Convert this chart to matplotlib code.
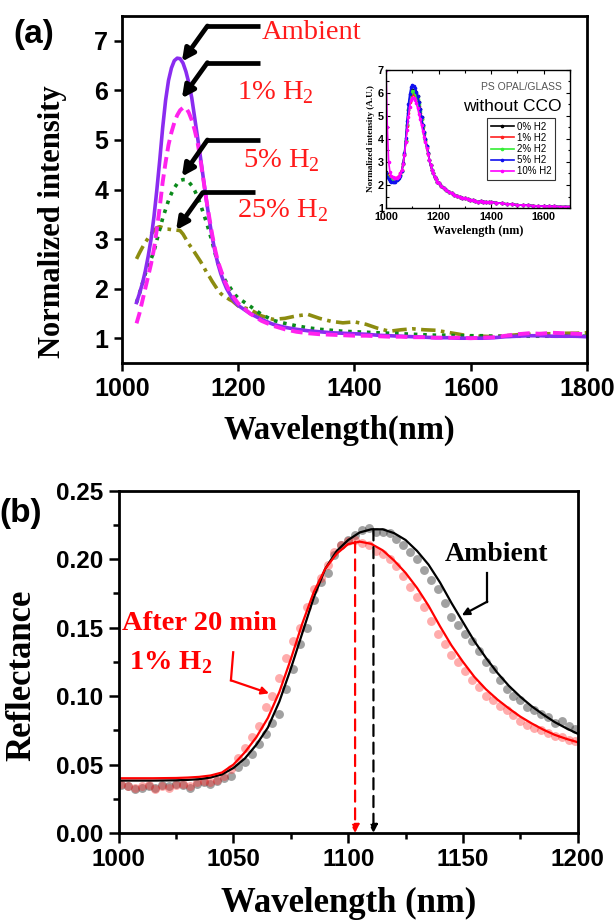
import matplotlib
matplotlib.use("Agg")
import matplotlib.pyplot as plt
from matplotlib.ticker import MultipleLocator

plt.rcParams["font.family"] = "Liberation Sans"
plt.rcParams["mathtext.fontset"] = "custom"
plt.rcParams["mathtext.rm"] = "Liberation Serif"
plt.rcParams["mathtext.bf"] = "Liberation Serif:bold"

SERIF = "Liberation Serif"

# ---------------- (a) PL spectra under H2 ----------------
wl_a = [1025, 1030, 1035, 1040, 1045, 1050, 1055, 1060, 1065, 1070, 1075, 1080,
        1085, 1090, 1095, 1100, 1105, 1110, 1115, 1120, 1125, 1130, 1135, 1140,
        1145, 1150, 1155, 1160, 1165, 1170, 1175, 1180, 1185, 1190, 1195, 1200,
        1220, 1240, 1260, 1280, 1300, 1320, 1340, 1360, 1380, 1400, 1420, 1440,
        1460, 1480, 1500, 1520, 1540, 1560, 1580, 1600, 1620, 1640, 1660, 1680,
        1700, 1720, 1740, 1760, 1780, 1800]

ambient_a = [1.72, 1.90, 2.10, 2.35, 2.65, 3.00, 3.45, 4.00, 4.60, 5.25, 5.80, 6.20,
             6.45, 6.60, 6.65, 6.64, 6.55, 6.38, 6.15, 5.85, 5.45, 5.05, 4.65, 4.22,
             3.80, 3.40, 3.05, 2.75, 2.50, 2.30, 2.14, 2.00, 1.90, 1.80, 1.72, 1.66,
             1.50, 1.38, 1.28, 1.22, 1.18, 1.15, 1.13, 1.11, 1.10, 1.09, 1.08, 1.06,
             1.05, 1.04, 1.03, 1.02, 1.01, 1.01, 1.00, 1.00, 1.00, 1.01, 1.03, 1.04,
             1.05, 1.05, 1.04, 1.04, 1.04, 1.03]

h2_1_a = [1.30, 1.50, 1.75, 2.00, 2.25, 2.50, 2.80, 3.20, 3.65, 4.15, 4.55, 4.90,
          5.15, 5.35, 5.50, 5.60, 5.65, 5.65, 5.55, 5.40, 5.20, 4.95, 4.60, 4.20,
          3.80, 3.45, 3.10, 2.80, 2.55, 2.38, 2.20, 2.07, 1.95, 1.86, 1.78, 1.70,
          1.50, 1.35, 1.25, 1.18, 1.13, 1.10, 1.08, 1.07, 1.06, 1.05, 1.05, 1.04,
          1.03, 1.03, 1.02, 1.02, 1.01, 1.01, 1.01, 1.00, 1.01, 1.02, 1.05, 1.08,
          1.10, 1.09, 1.11, 1.10, 1.09, 1.08]

h2_5_a = [1.72, 1.90, 2.10, 2.30, 2.45, 2.60, 2.75, 2.98, 3.20, 3.42, 3.60, 3.78,
          3.92, 4.03, 4.12, 4.18, 4.20, 4.20, 4.15, 4.08, 3.98, 3.85, 3.70, 3.52,
          3.35, 3.15, 2.95, 2.72, 2.52, 2.35, 2.22, 2.12, 2.04, 1.95, 1.87, 1.81,
          1.65, 1.48, 1.36, 1.30, 1.25, 1.21, 1.18, 1.16, 1.14, 1.13, 1.12, 1.11,
          1.10, 1.09, 1.08, 1.07, 1.06, 1.06, 1.05, 1.05, 1.05, 1.04, 1.04, 1.04,
          1.04, 1.04, 1.04, 1.04, 1.04, 1.04]

h2_25_a = [2.60, 2.72, 2.83, 2.93, 3.02, 3.10, 3.17, 3.23, 3.25, 3.23, 3.20, 3.20,
           3.19, 3.19, 3.18, 3.17, 3.10, 3.00, 2.90, 2.82, 2.73, 2.64, 2.55, 2.45,
           2.34, 2.25, 2.15, 2.06, 1.97, 1.90, 1.85, 1.82, 1.78, 1.75, 1.70, 1.65,
           1.58, 1.45, 1.38, 1.40, 1.45, 1.48, 1.40, 1.34, 1.31, 1.33, 1.28, 1.20,
           1.14, 1.17, 1.19, 1.17, 1.16, 1.12, 1.08, 1.04, 1.04, 1.03, 1.05, 1.07,
           1.08, 1.09, 1.09, 1.10, 1.10, 1.11]

# inset: bare PS opal on glass
wl_in = [1000, 1005, 1010, 1015, 1020, 1025, 1030, 1035, 1040, 1045, 1050, 1055,
         1060, 1065, 1070, 1075, 1080, 1085, 1090, 1095, 1100, 1105, 1110, 1115,
         1120, 1125, 1130, 1135, 1140, 1145, 1150, 1155, 1160, 1165, 1170, 1175,
         1180, 1185, 1190, 1195, 1200]
wl_in_tail = [1210, 1220, 1230, 1240, 1250, 1260, 1270, 1280, 1290, 1300, 1310,
              1320, 1330, 1340, 1350, 1360, 1370, 1380, 1390, 1400, 1420, 1440,
              1460, 1480, 1500, 1520, 1540, 1560, 1580, 1600, 1620, 1640, 1660,
              1680, 1700]
in_tail = [1.95, 1.85, 1.78, 1.70, 1.64, 1.58, 1.52, 1.48, 1.45, 1.42, 1.38,
           1.36, 1.33, 1.30, 1.26, 1.30, 1.28, 1.27, 1.26, 1.26, 1.23, 1.20,
           1.18, 1.16, 1.14, 1.13, 1.12, 1.10, 1.09, 1.08, 1.07, 1.07, 1.06,
           1.06, 1.06]

in_0 = [2.55, 2.45, 2.35, 2.30, 2.25, 2.20, 2.20, 2.20, 2.25, 2.30, 2.35, 2.45,
        2.60, 2.90, 3.30, 3.90, 4.60, 5.25, 5.70, 6.00, 6.15, 6.15, 6.10, 6.00,
        5.85, 5.60, 5.30, 4.95, 4.60, 4.30, 4.00, 3.70, 3.40, 3.10, 2.85, 2.65,
        2.50, 2.35, 2.25, 2.15, 2.08]
in_1 = [2.50, 2.45, 2.40, 2.35, 2.32, 2.30, 2.30, 2.30, 2.32, 2.35, 2.40, 2.50,
        2.65, 2.95, 3.35, 3.90, 4.55, 5.15, 5.60, 5.85, 5.95, 5.95, 5.90, 5.80,
        5.65, 5.45, 5.15, 4.85, 4.50, 4.20, 3.92, 3.63, 3.35, 3.08, 2.85, 2.65,
        2.50, 2.35, 2.25, 2.15, 2.08]
in_2 = [2.50, 2.40, 2.32, 2.25, 2.22, 2.20, 2.18, 2.20, 2.23, 2.28, 2.33, 2.43,
        2.60, 2.92, 3.35, 3.95, 4.65, 5.30, 5.75, 6.00, 6.10, 6.08, 6.02, 5.90,
        5.72, 5.50, 5.20, 4.88, 4.55, 4.25, 3.95, 3.66, 3.38, 3.09, 2.85, 2.65,
        2.50, 2.35, 2.25, 2.15, 2.08]
in_5 = [2.50, 2.35, 2.25, 2.18, 2.15, 2.12, 2.12, 2.15, 2.20, 2.25, 2.30, 2.40,
        2.60, 2.95, 3.40, 4.05, 4.80, 5.50, 5.95, 6.25, 6.35, 6.30, 6.20, 6.05,
        5.85, 5.60, 5.30, 4.95, 4.60, 4.30, 4.00, 3.70, 3.40, 3.10, 2.85, 2.65,
        2.50, 2.35, 2.25, 2.15, 2.08]
in_10 = [7.00, 4.50, 3.00, 2.55, 2.40, 2.35, 2.30, 2.30, 2.30, 2.35, 2.40, 2.50,
         2.65, 2.90, 3.30, 3.85, 4.40, 4.95, 5.40, 5.70, 5.80, 5.80, 5.70, 5.55,
         5.35, 5.10, 4.85, 4.60, 4.35, 4.10, 3.85, 3.60, 3.35, 3.10, 2.85, 2.65,
         2.50, 2.35, 2.25, 2.15, 2.08]

inset_labels = ["0% H2", "1% H2", "2% H2", "5% H2", "10% H2"]
inset_colors = ["black", "#ff2020", "#33ee33", "#1010ee", "#ff00ff"]

# ---------------- (b) reflectance, measured + fit ----------------
wl_pts = [1001, 1004, 1007, 1010, 1013, 1016, 1019, 1022, 1025, 1028, 1031, 1034,
          1037, 1040, 1043, 1046, 1049, 1052, 1055, 1058, 1061, 1064, 1067, 1070,
          1073, 1076, 1079, 1082, 1085, 1088, 1091, 1094, 1097, 1100, 1103, 1106,
          1109, 1112, 1115, 1118, 1121, 1124, 1127, 1130, 1133, 1136, 1139, 1142,
          1145, 1148, 1151, 1154, 1157, 1160, 1163, 1166, 1169, 1172, 1175, 1178,
          1181, 1184, 1187, 1190, 1193, 1196, 1199]

refl_ambient = [.035, .034, .032, .033, .034, .033, .035, .034, .036, .035, .033, .036,
                .037, .036, .038, .040, .042, .048, .052, .058, .065, .072, .080, .087,
                .105, .120, .138, .150, .170, .183, .190, .203, .210, .214, .218, .221,
                .223, .220, .220, .219, .215, .210, .205, .200, .192, .185, .178, .168,
                .158, .152, .145, .140, .133, .125, .120, .112, .105, .100, .097, .092,
                .090, .087, .085, .080, .082, .078, .076]

refl_h2 = [.036, .034, .033, .034, .035, .032, .034, .033, .035, .036, .034, .037,
           .038, .037, .039, .042, .047, .055, .062, .070, .078, .092, .100, .113,
           .128, .140, .150, .165, .178, .186, .196, .205, .210, .213, .214, .212,
           .210, .206, .204, .200, .195, .188, .180, .172, .165, .155, .145, .138,
           .130, .125, .118, .112, .107, .100, .097, .093, .090, .086, .082, .079,
           .077, .075, .073, .071, .070, .068, .067]

wl_fit = [1000, 1005, 1010, 1015, 1020, 1025, 1030, 1035, 1040, 1045, 1050, 1055,
          1060, 1065, 1070, 1075, 1080, 1085, 1090, 1095, 1100, 1105, 1110, 1115,
          1120, 1125, 1130, 1135, 1140, 1145, 1150, 1155, 1160, 1165, 1170, 1175,
          1180, 1185, 1190, 1195, 1200]

fit_ambient = [.0383, .0383, .0383, .0383, .0384, .0385, .0388, .0393, .0405, .0428,
               .0475, .0545, .0645, .0770, .0960, .1200, .1460, .1720, .1930, .2060,
               .2140, .2195, .2218, .2218, .2190, .2140, .2060, .1960, .1830, .1680,
               .1540, .1400, .1280, .1170, .1075, .0995, .0925, .0865, .0810, .0765,
               .0725]

fit_h2 = [.0400, .0400, .0400, .0400, .0401, .0402, .0405, .0410, .0420, .0442,
          .0500, .0590, .0700, .0840, .1030, .1270, .1530, .1760, .1930, .2040,
          .2110, .2128, .2112, .2065, .1990, .1900, .1790, .1660, .1510, .1370,
          .1250, .1140, .1050, .0975, .0910, .0850, .0800, .0755, .0717, .0688,
          .0663]

peak_ambient = (1111, 0.2218)
peak_h2 = (1103, 0.2128)

fig = plt.figure(figsize=(6.14, 9.22), dpi=100)

# ---- panel (a)
ax = fig.add_axes([0.1987, 0.6063, 0.7573, 0.3763])
ax.plot(wl_a, h2_25_a, color="#8c8c10", lw=2.6, ls=(0, (4, 1.5, 1, 1.5)))
ax.plot(wl_a, h2_5_a, color="#0a8a1a", lw=2.6, ls=(0, (1, 1.6)))
ax.plot(wl_a, ambient_a, color="#8a2cf0", lw=2.6)
ax.plot(wl_a, h2_1_a, color="#ff22ee", lw=2.8, ls=(0, (3, 1.5)))

ax.set_xlim(1000, 1800)
ax.set_ylim(0.5, 7.5)
ax.xaxis.set_major_locator(MultipleLocator(200))
ax.yaxis.set_major_locator(MultipleLocator(1))
ax.tick_params(direction="out", length=6, width=1.8, labelsize=18, pad=4)
for lab in ax.get_xticklabels() + ax.get_yticklabels():
    lab.set_fontweight("bold")
for sp in ax.spines.values():
    sp.set_linewidth(2.0)

# labels with bent arrows
arrows_a = [
    ("Ambient", (1103, 6.58), (1147, 7.30), 1237, (1241, 7.17)),
    (r"1% H$_\mathregular{2}$", (1103, 5.84), (1147, 6.56), 1237, (1198, 5.95)),
    (r"5% H$_\mathregular{2}$", (1103, 4.26), (1147, 5.00), 1237, (1208, 4.58)),
    (r"25% H$_\mathregular{2}$", (1093, 3.18), (1139, 3.94), 1229, (1198, 3.57)),
]
for txt, tip, corner, xend, tpos in arrows_a:
    ax.plot([corner[0], xend], [corner[1], corner[1]], color="black", lw=3.4,
            solid_capstyle="butt")
    ax.annotate("", xy=tip, xytext=corner,
                arrowprops=dict(arrowstyle="-|>", color="black", lw=3.4,
                                mutation_scale=18, shrinkA=0, shrinkB=0))
    ax.text(tpos[0], tpos[1], txt, color="#ff1a1a", fontsize=20.5, family=SERIF,
            ha="left", va="center")

fig.text(0.055, 0.963, "(a)", fontsize=24, fontweight="bold", ha="center", va="center")
fig.text(0.086, 0.7592, "Normalized intensity", family=SERIF, fontweight="bold",
         fontsize=22, rotation=90, ha="center", va="center")
fig.text(0.553, 0.5336, "Wavelength(nm)", family=SERIF, fontweight="bold",
         fontsize=23.5, ha="center", va="center")

# ---- inset
axi = fig.add_axes([0.6287, 0.7744, 0.2997, 0.1497])
for ys, lab, col in zip([in_0, in_1, in_2, in_5, in_10], inset_labels, inset_colors):
    axi.plot(wl_in + wl_in_tail, ys + in_tail, color=col, lw=1.2, marker="o",
             ms=1.6, label=lab)
axi.set_xlim(1000, 1700)
axi.set_ylim(1, 7)
axi.xaxis.set_major_locator(MultipleLocator(200))
axi.xaxis.set_minor_locator(MultipleLocator(100))
axi.yaxis.set_major_locator(MultipleLocator(1))
axi.yaxis.set_minor_locator(MultipleLocator(0.5))
axi.tick_params(which="both", direction="in", top=True, right=True,
                labelsize=7.8, width=0.8)
axi.tick_params(axis="x", pad=3)
axi.tick_params(axis="y", pad=1.5)
axi.tick_params(which="major", length=3)
axi.tick_params(which="minor", length=1.8)
for lab in axi.get_xticklabels() + axi.get_yticklabels():
    lab.set_fontweight("bold")
for sp in axi.spines.values():
    sp.set_linewidth(1.0)
axi.set_xlabel("Wavelength (nm)", family=SERIF, fontweight="bold", fontsize=8.8,
               labelpad=2)
axi.set_ylabel("Normalized intensity (A.U.)", family=SERIF, fontweight="bold",
               fontsize=6.6, labelpad=2)
axi.text(0.955, 0.88, "PS OPAL/GLASS", transform=axi.transAxes, fontsize=7.5,
         color="#555555", ha="right", va="center")
axi.text(0.955, 0.735, "without CCO", transform=axi.transAxes, fontsize=12.5,
         color="black", ha="right", va="center")
leg = axi.legend(loc="upper right", bbox_to_anchor=(0.945, 0.685), fontsize=7,
                 handlelength=2.4, handletextpad=0.3, labelspacing=0.12,
                 borderpad=0.35, fancybox=False, framealpha=1)
leg.get_frame().set_edgecolor("#333333")
leg.get_frame().set_linewidth(0.8)

# ---- panel (b)
bx = fig.add_axes([0.1933, 0.0965, 0.7476, 0.3713])
bx.plot(wl_pts, refl_ambient, "o", color="#444444", alpha=0.5, ms=6.4, mew=0)
bx.plot(wl_pts, refl_h2, "o", color="#ff3030", alpha=0.4, ms=6.4, mew=0)
bx.plot(wl_fit, fit_ambient, color="black", lw=1.6)
bx.plot(wl_fit, fit_h2, color="red", lw=1.6)

for (px, py), col in [(peak_h2, "red"), (peak_ambient, "black")]:
    bx.annotate("", xy=(px, 0.0), xytext=(px, py),
                arrowprops=dict(arrowstyle="-|>", color=col, lw=1.6,
                                linestyle=(0, (5, 3)), mutation_scale=12,
                                shrinkA=0, shrinkB=0))

bx.set_xlim(1000, 1200)
bx.set_ylim(0, 0.25)
bx.xaxis.set_major_locator(MultipleLocator(50))
bx.xaxis.set_minor_locator(MultipleLocator(25))
bx.yaxis.set_major_locator(MultipleLocator(0.05))
bx.yaxis.set_minor_locator(MultipleLocator(0.025))
bx.yaxis.set_major_formatter("{x:.2f}")
bx.tick_params(which="both", direction="out", width=1.8, labelsize=17.5, pad=4)
bx.tick_params(which="major", length=7)
bx.tick_params(which="minor", length=4.5)
for lab in bx.get_xticklabels() + bx.get_yticklabels():
    lab.set_fontweight("bold")
for sp in bx.spines.values():
    sp.set_linewidth(2.0)

# ambient label and its arrow
bx.text(1164.5, 0.2037, "Ambient", family=SERIF, fontweight="bold", fontsize=20,
        ha="center", va="center")
bx.plot([1160.6, 1160.6], [0.190, 0.169], color="black", lw=1.6)
bx.annotate("", xy=(1149.5, 0.159), xytext=(1160.6, 0.169),
            arrowprops=dict(arrowstyle="-|>", color="black", lw=1.6,
                            mutation_scale=11, shrinkA=0, shrinkB=0))

# H2 label and its arrow
bx.text(1001.5, 0.153, "After 20 min", family=SERIF, fontweight="bold", fontsize=20.5,
        color="red", ha="left", va="center")
bx.text(1004.5, 0.1245, r"1% H$_\mathbf{2}$", family=SERIF, fontweight="bold",
        fontsize=20.5, color="red", ha="left", va="center")
bx.plot([1049.9, 1048.9], [0.132, 0.1115], color="red", lw=1.6)
bx.annotate("", xy=(1065.5, 0.102), xytext=(1048.9, 0.1115),
            arrowprops=dict(arrowstyle="-|>", color="red", lw=1.6,
                            mutation_scale=11, shrinkA=0, shrinkB=0))

fig.text(0.033, 0.4436, "(b)", fontsize=24, fontweight="bold", ha="center", va="center")
fig.text(0.036, 0.268, "Reflectance", family=SERIF, fontweight="bold",
         fontsize=25, rotation=90, ha="center", va="center")
fig.text(0.568, 0.0206, "Wavelength (nm)", family=SERIF, fontweight="bold",
         fontsize=25, ha="center", va="center")

fig.savefig("out.png", dpi=100)
